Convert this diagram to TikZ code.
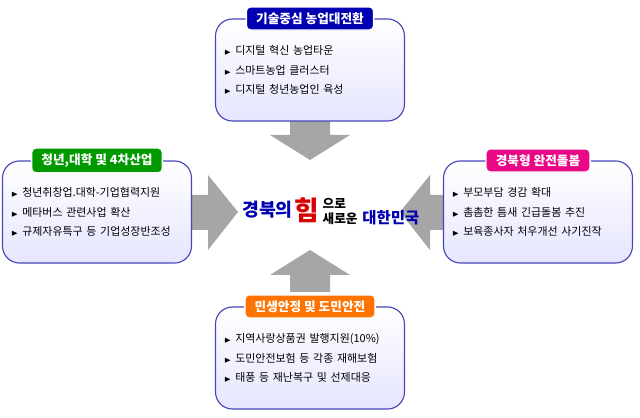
\documentclass[tikz,border=0pt]{standalone}
\usepackage{amssymb}
\usepackage{fontspec}
\setmainfont{Noto Sans CJK KR}
\usetikzlibrary{positioning,arrows.meta}
\tikzset{
  panel/.style={draw=blue!45!gray, line width=0.8pt, rounded corners=12pt, top color=white, bottom color=blue!10, minimum height=2.55cm, text width=4.3cm, align=left, font=\fontsize{7.8}{14}\selectfont, inner sep=6pt},
  tag/.style={rounded corners=3pt, text=white, font=\bfseries\fontsize{9}{10}\selectfont, inner xsep=7pt, inner ysep=4pt, draw=white, line width=1pt},
  bigarrow/.style={fill=gray!70, draw=none}
}
\newcommand{\itm}{{\tiny$\blacktriangleright$}\ }
\begin{document}
\begin{tikzpicture}[x=0.025cm,y=-0.025cm]
\useasboundingbox (0,0) rectangle (640,418);
% arrows
\fill[bigarrow] (290,118) -- (330,118) -- (330,135) -- (350,135) -- (310,160) -- (270,135) -- (290,135) -- cycle;
\fill[bigarrow] (290,292) -- (330,292) -- (330,275) -- (350,275) -- (310,250) -- (270,275) -- (290,275) -- cycle;
\fill[bigarrow] (190,195) -- (190,230) -- (208,230) -- (208,250) -- (238,212) -- (208,175) -- (208,195) -- cycle;
\fill[bigarrow] (448,195) -- (448,230) -- (430,230) -- (430,250) -- (400,212) -- (430,175) -- (430,195) -- cycle;
% panels
\node[panel] (top) at (310,70) {\itm 디지털 혁신 농업타운\\ \itm 스마트농업 클러스터\\ \itm 디지털 청년농업인 육성};
\node[panel] (left) at (97,212) {\itm 청년취창업.대학-기업협력지원\\ \itm 메타버스 관련사업 확산\\ \itm 규제자유특구 등 기업성장반조성};
\node[panel] (right) at (538,212) {\itm 부모부담 경감 확대\\ \itm 촘촘한 틈새 긴급돌봄 추진\\ \itm 보육종사자 처우개선 사기진작};
\node[panel] (bottom) at (310,358) {\itm 지역사랑상품권 발행지원(10\%)\\ \itm 도민안전보험 등 각종 재해보험\\ \itm 태풍 등 재난복구 및 선제대응};
\node[tag, fill=blue!70!black] (ttop) at (top.north) {기술중심 농업대전환};
\node[tag, fill=green!60!black] (tleft) at (left.north) {청년,대학 및 4차산업};
\node[tag, fill=magenta!90!purple] (tright) at (right.north) {경북형 완전돌봄};
\node[tag, fill=orange!90!red] (tbottom) at (bottom.north) {민생안정 및 도민안전};
% centre logo
\node[text=blue!70!black, font=\bfseries\fontsize{13}{13}\selectfont, anchor=west, inner sep=0pt] (logoa) at (242,210) {경북의};
\node[text=red!85!black, font=\bfseries\fontsize{19}{19}\selectfont, anchor=west, inner sep=0pt] (logob) at ([xshift=1pt]logoa.east) {힘};
\node[font=\bfseries\fontsize{9}{9}\selectfont, anchor=south west, inner sep=0pt] (logoc) at ([xshift=2pt,yshift=1pt]logob.east) {으로};
\node[font=\bfseries\fontsize{9}{9}\selectfont, anchor=north west, inner sep=0pt] (logod) at ([xshift=2pt,yshift=-2pt]logob.east) {새로운};
\node[text=blue!70!black, font=\bfseries\fontsize{11}{11}\selectfont, anchor=base west, inner sep=0pt] (logoe) at ([xshift=3pt]logod.base east) {대한민국};
\end{tikzpicture}
\end{document}
